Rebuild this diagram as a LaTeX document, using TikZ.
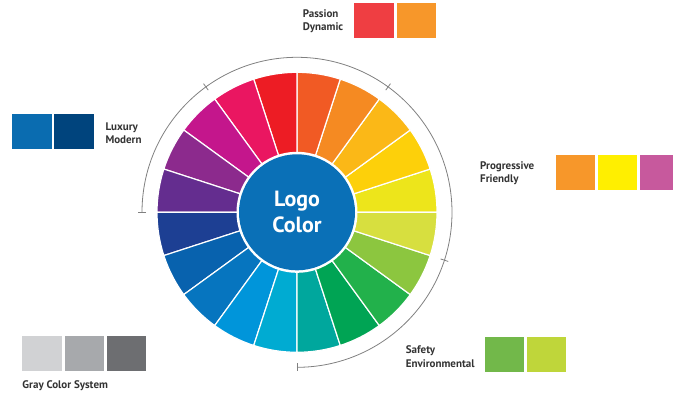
\documentclass[tikz,border=0pt]{standalone}
\usepackage{fontspec}
\setmainfont{PT Sans}
\usetikzlibrary{positioning}

\definecolor{wA}{HTML}{EDE51B}
\definecolor{wB}{HTML}{FDD00A}
\definecolor{wC}{HTML}{FBB817}
\definecolor{wD}{HTML}{F58A22}
\definecolor{wE}{HTML}{F15A24}
\definecolor{wF}{HTML}{ED1C24}
\definecolor{wG}{HTML}{EA1661}
\definecolor{wH}{HTML}{C4168C}
\definecolor{wI}{HTML}{8C2A8D}
\definecolor{wJ}{HTML}{642D8F}
\definecolor{wK}{HTML}{1D3F93}
\definecolor{wL}{HTML}{0862AE}
\definecolor{wM}{HTML}{0675BF}
\definecolor{wN}{HTML}{0095DA}
\definecolor{wO}{HTML}{00ABD2}
\definecolor{wP}{HTML}{00A79D}
\definecolor{wQ}{HTML}{00A454}
\definecolor{wR}{HTML}{22B14B}
\definecolor{wS}{HTML}{8CC63F}
\definecolor{wT}{HTML}{D7DF3F}
\definecolor{logoblue}{HTML}{0A70B7}
\definecolor{rimgray}{HTML}{808080}
\definecolor{labelgray}{HTML}{333333}

\begin{document}
\begin{tikzpicture}[x=1pt,y=1pt,
    slice/.style={draw=white, line width=1.2pt},
    swatch/.style={minimum width=39.5pt, minimum height=35pt, inner sep=0pt, outer sep=0pt},
    caption/.style={font=\bfseries\fontsize{11}{13.5}\selectfont, text=labelgray, align=left, inner sep=0pt},
    rim/.style={draw=rimgray, line width=0.8pt}]
                        \useasboundingbox (0,0) rectangle (673,394);
                        \coordinate (O) at (297,181.7);

                        % colour wheel
                        \begin{scope}[shift={(O)}]
                        \fill[wA, slice] (0,0) -- (0:140) arc[start angle=0, end angle=18, radius=140] -- cycle;
                        \fill[wB, slice] (0,0) -- (18:140) arc[start angle=18, end angle=36, radius=140] -- cycle;
                        \fill[wC, slice] (0,0) -- (36:140) arc[start angle=36, end angle=54, radius=140] -- cycle;
                        \fill[wD, slice] (0,0) -- (54:140) arc[start angle=54, end angle=72, radius=140] -- cycle;
                        \fill[wE, slice] (0,0) -- (72:140) arc[start angle=72, end angle=90, radius=140] -- cycle;
                        \fill[wF, slice] (0,0) -- (90:140) arc[start angle=90, end angle=108, radius=140] -- cycle;
                        \fill[wG, slice] (0,0) -- (108:140) arc[start angle=108, end angle=126, radius=140] -- cycle;
                        \fill[wH, slice] (0,0) -- (126:140) arc[start angle=126, end angle=144, radius=140] -- cycle;
                        \fill[wI, slice] (0,0) -- (144:140) arc[start angle=144, end angle=162, radius=140] -- cycle;
                        \fill[wJ, slice] (0,0) -- (162:140) arc[start angle=162, end angle=180, radius=140] -- cycle;
                        \fill[wK, slice] (0,0) -- (180:140) arc[start angle=180, end angle=198, radius=140] -- cycle;
                        \fill[wL, slice] (0,0) -- (198:140) arc[start angle=198, end angle=216, radius=140] -- cycle;
                        \fill[wM, slice] (0,0) -- (216:140) arc[start angle=216, end angle=234, radius=140] -- cycle;
                        \fill[wN, slice] (0,0) -- (234:140) arc[start angle=234, end angle=252, radius=140] -- cycle;
                        \fill[wO, slice] (0,0) -- (252:140) arc[start angle=252, end angle=270, radius=140] -- cycle;
                        \fill[wP, slice] (0,0) -- (270:140) arc[start angle=270, end angle=288, radius=140] -- cycle;
                        \fill[wQ, slice] (0,0) -- (288:140) arc[start angle=288, end angle=306, radius=140] -- cycle;
                        \fill[wR, slice] (0,0) -- (306:140) arc[start angle=306, end angle=324, radius=140] -- cycle;
                        \fill[wS, slice] (0,0) -- (324:140) arc[start angle=324, end angle=342, radius=140] -- cycle;
                        \fill[wT, slice] (0,0) -- (342:140) arc[start angle=342, end angle=360, radius=140] -- cycle;

                        \fill[white] (0,0) circle (60.5);
                        \fill[logoblue] (0,0) circle (58);

                        % outer rim with ticks
                        \draw[rim] (180:155) arc[start angle=180, end angle=-90, radius=155];
                        \draw[rim] (180:151) -- (180:159);
                        \draw[rim] (126:151) -- (126:159);
                        \draw[rim] (54:151) -- (54:159);
                        \draw[rim] (-18:151) -- (-18:159);
                        \draw[rim] (-90:151) -- (-90:159);
                        \end{scope}

                        \node[font=\bfseries\fontsize{22}{26}\selectfont, text=white, align=center] (logo) at (O) {Logo\\Color};

                        % swatches
                        \node[swatch, fill={rgb,255:red,239;green,62;blue,66}] (pas1) at (374.2,373) {};
                        \node[swatch, fill={rgb,255:red,247;green,151;blue,42}, right=2.6pt of pas1] (pas2) {};

                        \node[swatch, fill={rgb,255:red,10;green,108;blue,176}] (lux1) at (32,262.2) {};
                        \node[swatch, fill={rgb,255:red,0;green,68;blue,125}, right=2.6pt of lux1] (lux2) {};

                        \node[swatch, fill={rgb,255:red,247;green,151;blue,42}] (pro1) at (575.3,221.5) {};
                        \node[swatch, fill={rgb,255:red,255;green,239;blue,0}, right=2.6pt of pro1] (pro2) {};
                        \node[swatch, fill={rgb,255:red,199;green,89;blue,157}, right=2.6pt of pro2] (pro3) {};

                        \node[swatch, fill={rgb,255:red,209;green,210;blue,212}] (gry1) at (42.2,40.7) {};
                        \node[swatch, fill={rgb,255:red,167;green,169;blue,172}, right=2.6pt of gry1] (gry2) {};
                        \node[swatch, fill={rgb,255:red,109;green,110;blue,113}, right=2.6pt of gry2] (gry3) {};

                        \node[swatch, fill={rgb,255:red,114;green,184;blue,74}] (saf1) at (504.5,39.2) {};
                        \node[swatch, fill={rgb,255:red,191;green,214;blue,58}, right=2.6pt of saf1] (saf2) {};

                        % captions
                        \node[caption, anchor=west] (pasText) at (302.7,373) {Passion\\Dynamic};
                        \node[caption, anchor=west] (luxText) at (105.3,261) {Luxury\\Modern};
                        \node[caption, anchor=west] (proText) at (480,221) {Progressive\\Friendly};
                        \node[caption, anchor=west] (safText) at (405.7,37.5) {Safety\\Environmental};
                        \node[caption, anchor=base west] (gryText) at (22.3,5.7) {Gray Color System};
                    \end{tikzpicture}
\end{document}
